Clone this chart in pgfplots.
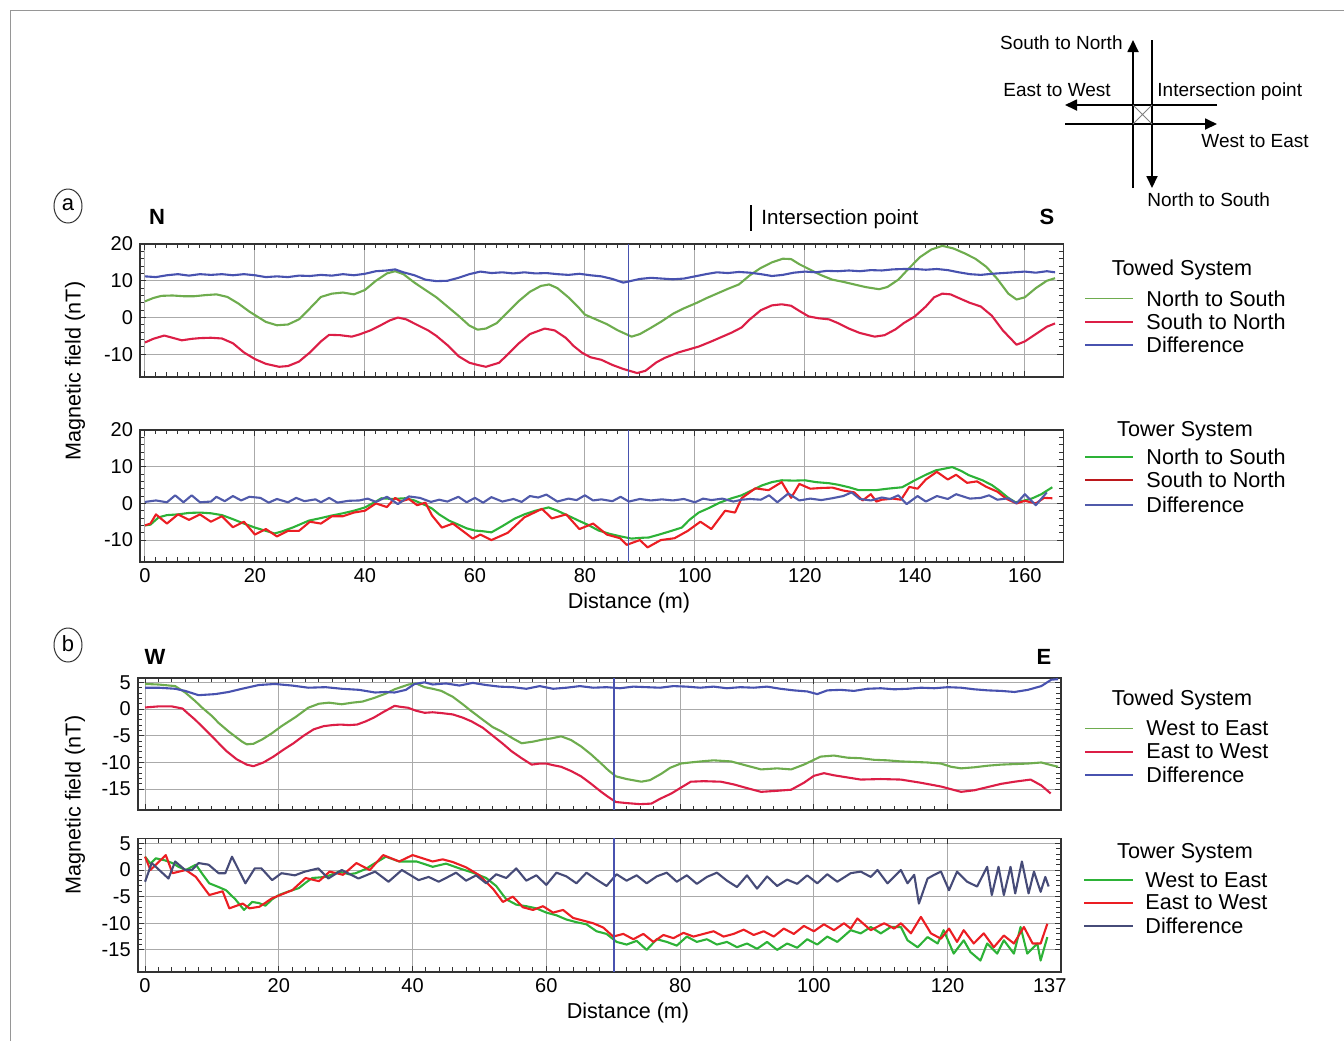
\documentclass[border=0pt]{standalone}
\usepackage{fontspec}
\setmainfont{Liberation Sans}
\usepackage{pgfplots}
\pgfplotsset{compat=1.18}
\usetikzlibrary{arrows.meta}
\definecolor{twgreen}{RGB}{110,172,78}
\definecolor{twred}{RGB}{220,30,70}
\definecolor{twblue}{RGB}{72,82,175}
\definecolor{trgreen}{RGB}{45,178,55}
\definecolor{trred}{RGB}{235,30,35}
\definecolor{trblue}{RGB}{80,90,170}
\definecolor{trgray}{RGB}{70,75,120}
\definecolor{gridgray}{RGB}{170,170,170}
\definecolor{framegray}{RGB}{150,150,150}
\pgfplotsset{
  magstyle/.style={
    scale only axis,
    axis line style={draw=black!80, line width=0.8pt},
    tick style={black!80, line width=0.5pt},
    major tick length=3pt, minor tick length=2.2pt,
    tick align=inside,
    grid=major, major grid style={gridgray, line width=0.5pt},
    ticklabel style={font=\fontsize{10}{12}\selectfont},
    /pgf/number format/assume math mode=true,
    every axis plot/.append style={line width=1.05pt, line join=round},
    anchor=south west,
  },
}
\newcommand{\lf}{\fontsize{10.8}{13}\selectfont}
\begin{document}
\begin{tikzpicture}
\useasboundingbox (0,0) rectangle (672pt,-520.5pt);
% frame
\draw[framegray, line width=0.5pt] (5pt,-520.5pt) -- (5pt,-5pt) -- (672pt,-5pt);

% ---------- Panel a1: Towed N-S ----------
\begin{axis}[magstyle, at={(70pt,-188.35pt)}, width=461.65pt, height=66.35pt,
  xmin=-0.9, xmax=167, ymin=-16.1, ymax=20,
  xtick={0,20,...,160}, xticklabels={}, minor x tick num=9,
  ytick={-10,0,10,20}, minor y tick num=4]
\addplot[twgreen] coordinates {(0,4.4) (1.5,5.3) (3,5.9) (5,6) (7,5.8) (9,5.8) (11,6.1) (13,6.3) (15,5.6) (17,3.8) (19,1.6) (20.5,0.2) (22,-1.2) (24,-2.1) (26,-1.9) (28,-0.5) (30,2.5) (32,5.6) (34,6.5) (36,6.8) (38,6.3) (40,7.5) (42,10) (44,12) (45.5,12.6) (47,11.8) (49,9.5) (51,7.5) (53,5.5) (55,3) (57,0.5) (59,-2.2) (60.5,-3.3) (62,-3) (64,-1.5) (66,1.5) (68,4.5) (70,7) (72,8.6) (73.5,9) (75,8) (77,5.5) (79,2.5) (80,0.8) (82,-0.5) (84,-1.8) (86,-3.5) (88.5,-5.2) (90,-4.5) (92,-2.8) (94,-1) (96,1) (98,2.5) (100.5,4.1) (102,5.2) (104,6.5) (106,7.8) (108,9) (110,11.5) (112,13.5) (114,15) (116,16) (117.5,15.9) (119,14.5) (121,13) (123,11.5) (125,10.3) (127,9.7) (129,9) (131,8.3) (133.5,7.7) (135,8.3) (137,10.3) (139,13.5) (141,16.5) (143,18.5) (145,19.5) (147,18.8) (149,17.5) (151,16) (153,13.8) (155,10.5) (157,6.5) (158.5,4.9) (160,5.5) (162,8) (164,10) (165.5,10.7)};
\addplot[twred] coordinates {(0,-6.8) (1.5,-5.8) (3.5,-4.9) (5,-5.5) (6.7,-6.2) (8.5,-5.8) (10,-5.6) (12,-5.5) (14,-5.7) (16,-7) (18,-9.5) (20,-11.3) (22,-12.6) (24.4,-13.4) (26,-13.2) (28,-12) (30,-9.5) (32,-6.5) (33.5,-4.7) (35.5,-4.8) (37.6,-5.2) (39,-4.6) (41,-3.5) (43,-2) (44.5,-0.8) (46,0) (47.5,-0.5) (49.5,-2) (51.5,-3.5) (53,-5) (55,-7.5) (57,-10.5) (59,-12.3) (60.5,-12.9) (62,-13.4) (64.4,-12.3) (66,-10) (68,-7) (70,-4.5) (72.7,-3) (74.5,-3.5) (76.5,-5.5) (78,-7.8) (79.5,-9.6) (81,-10.8) (83,-11.5) (85,-12.9) (87,-14) (89.5,-15.1) (91,-14.5) (93,-12.2) (94.5,-11) (97,-9.5) (100.7,-7.9) (103,-6.5) (105,-5.2) (106.7,-4.1) (108.5,-2.7) (110,-0.5) (112,2) (114,3.3) (115.8,3.6) (117.5,3.2) (119,1.8) (120.7,0.3) (122.5,-0.2) (124.4,-0.5) (126,-1.5) (128,-3) (130,-4.2) (132.7,-5.2) (134.5,-4.8) (136.5,-3.2) (138,-1.5) (140,0.3) (142,3) (143.5,5.5) (145,6.5) (146.5,6.3) (148,5.3) (150,4) (152,3) (154,0.5) (156,-3.5) (158.5,-7.4) (160,-6.5) (162,-4.5) (164,-2.5) (165.5,-1.6)};
\addplot[twblue] coordinates {(0,11.2) (2,11) (4,11.5) (6,11.8) (8,11.4) (10,11.8) (12,11.6) (14,11.8) (16,11.5) (18,11.8) (20,11.5) (22,11) (24,11.2) (26,11) (28,11.4) (30,11.3) (32,11.6) (34,11.4) (36,11.8) (38,11.5) (40,11.9) (42,12.6) (44,12.8) (45.5,13.1) (47,12.3) (49,11.5) (51,10.3) (53,9.9) (55,10) (57,10.8) (59,11.8) (61,12.5) (63,12.1) (65,12.3) (67,12) (69,12.3) (71,12) (73,12.1) (75,11.8) (77,11.6) (79,11.9) (81,11.5) (83,11.2) (85,10.5) (87,9.5) (88.5,10) (90,10.5) (92,10.8) (94,10.6) (96,10.4) (98,10.6) (100,11.2) (102,11.8) (104,12.3) (106,12.1) (108,12.4) (110,12.2) (112,11.8) (114,11.3) (116,11.6) (118,12.2) (120,12.5) (122,12.3) (124,12.7) (126,12.6) (128,12.8) (130,12.6) (132,12.9) (134,12.8) (136,13.1) (138,13.2) (140,13.2) (142,13) (144,13.2) (146,12.9) (148,12.3) (150,11.8) (152,11.6) (154,11.9) (156,12.1) (158,12.3) (160,12.5) (162,12.2) (164,12.6) (165.5,12.3)};
\addplot[twblue, line width=0.6pt] coordinates {(88,-16.1) (88,20)};
\end{axis}

% ---------- Panel a2: Tower N-S ----------
\begin{axis}[magstyle, at={(70pt,-280.85pt)}, width=461.65pt, height=65.85pt,
  xmin=-0.9, xmax=167, ymin=-15.9, ymax=20,
  xtick={0,20,...,160}, minor x tick num=9,
  ytick={-10,0,10,20}, minor y tick num=4]
\addplot[trgreen] coordinates {(0,-6) (1,-5.8) (2.5,-3.8) (4,-3.2) (6,-3) (8,-2.6) (10,-2.5) (12,-2.7) (14,-3.2) (16,-4.3) (18,-5.5) (20,-6.6) (22,-7.5) (23.6,-8.2) (25,-7.6) (27,-6.5) (29.8,-4.7) (32,-4) (34,-3.3) (36,-2.7) (38,-2) (40,-1.1) (42,0.5) (43,1.4) (45,1.2) (47.3,1.4) (49,0.8) (51,-0.5) (52.2,-1.4) (53.5,-3) (55.3,-4.7) (57,-5.8) (58.5,-6.8) (60,-7.4) (61.5,-7.6) (63,-7.9) (65,-6.2) (67.3,-4.1) (69,-3) (71,-2) (73.4,-1.1) (75,-2) (77.6,-3.8) (79,-4.8) (80.5,-5.8) (82.5,-7.4) (84.5,-8.3) (86.5,-9) (88.5,-9.6) (90,-9.4) (91.6,-9.3) (93.5,-8.5) (95.5,-7.6) (97.6,-6.6) (99,-4.5) (100.7,-2.5) (102.5,-1.3) (104.5,0.2) (106.7,1.4) (108.5,2.2) (110.3,3.5) (112.2,4.9) (114,5.8) (115.8,6.3) (118,6.2) (120,6.3) (122,5.8) (124.4,5.5) (126,5.1) (128,4.4) (129.8,3.6) (132.9,3.6) (135,4) (137.7,4.4) (140,6.3) (142,7.8) (143.8,9) (145.5,9.5) (146.8,9.9) (148.5,8.8) (149.8,7.7) (152.3,6.3) (154,5) (155.3,3.6) (157,1.5) (158.3,0.3) (160,0.8) (161.4,1.4) (163,2.5) (165,4.4)};
\addplot[trred] coordinates {(0,-6) (1,-5.5) (2,-3) (4,-5.5) (6,-3) (8,-4.5) (10,-3) (12,-5) (14,-3.5) (16,-6.5) (18,-5) (20,-8.5) (22,-7) (24,-9) (26,-7.5) (28,-7.5) (30,-5) (32,-5.5) (34,-3.5) (36,-3.5) (38,-2.5) (40,-2) (42,0) (44,-1) (45.5,1.5) (46.5,0.5) (48,1.2) (49.5,-0.5) (51,0.2) (52.2,-3.3) (54,-6.6) (56,-5.5) (58.4,-8.2) (59.6,-9.6) (61,-8.5) (63,-10) (66,-8) (69,-3.8) (72.2,-1.5) (74,-4.1) (76.6,-3) (79,-7) (81.5,-5.5) (84,-8.5) (86.4,-9.5) (87.6,-11.3) (90,-10) (91.4,-12) (93.8,-10) (96.3,-9.5) (98.7,-7.5) (101,-5) (103,-7) (105.5,-2) (107.3,-2.5) (108.5,1.4) (111,4.1) (113.4,3.6) (115.8,5.8) (117.5,1.5) (119,5.3) (121,4) (123,4.2) (125,4.3) (127,3.5) (129,3) (130.5,0.8) (132,2.5) (133,0.5) (134,1) (136,1.3) (137.5,1) (139,4.5) (140.5,4) (142,6.5) (144,8.6) (146,6.5) (147.5,7.8) (149.5,5.6) (151.3,6) (153,4.5) (155,3.2) (156.7,1.2) (158.5,0) (160,0.7) (162,0) (163.5,1.5) (165,1.4)};
\addplot[trblue] coordinates {(0,0.4) (2,0.8) (4,0.3) (5.5,2.2) (7,0.3) (8.5,2.2) (10,0.3) (12,0.5) (13,1.8) (14.5,0.6) (16,2) (17.5,0.8) (19,1.8) (21,1.5) (22.5,0.2) (24,1.2) (26,0.3) (27.5,1.5) (29,0.6) (31,1.1) (32,0.3) (33.5,1.5) (35,0.2) (37,0.7) (39,0.8) (40.5,1.3) (42,0.4) (44,1.8) (46,-0.2) (48,1.9) (50,1.5) (52,0.4) (53.5,1) (55,0.5) (57,1.8) (58.5,0.3) (60,1.5) (61.5,0.2) (63,1.7) (65,0.5) (67,1.2) (68.5,0.4) (70,2) (71.5,1.6) (73,2.4) (75,0.5) (77,1.3) (78.5,0.9) (80,2.2) (81.5,0.8) (83,1.1) (85,0.6) (86.5,1.8) (88,0.5) (90,1.2) (92,0.8) (94,1.1) (96,0.8) (98,1.2) (100,0.3) (101.5,1.3) (103,0.9) (105,1.3) (107,0.5) (108.5,1) (110,1.2) (112,1) (113.5,2.2) (115,0.3) (117,2.7) (119,0.8) (121,1.3) (123,0.9) (125,1.4) (127,2) (128.5,3) (130,1.2) (132,0.8) (134,1.6) (135.5,1.2) (137,2.2) (138.5,-0.2) (140.5,2) (142,0.5) (144,2) (146,1.2) (147.5,2.5) (150,1.3) (152,1.5) (153.5,2.2) (155,1) (157,1.4) (158.5,0) (160,2.5) (162,-0.5) (164,3)};
\addplot[twblue, line width=0.6pt] coordinates {(88,-15.9) (88,20)};
\end{axis}

% ---------- Panel b1: Towed W-E ----------
\begin{axis}[magstyle, at={(68.85pt,-405pt)}, width=461.5pt, height=66.15pt,
  xmin=-1.1, xmax=136.9, ymin=-18.9, ymax=5.87,
  xtick={0,20,...,120}, xticklabels={}, minor x tick num=9,
  ytick={-15,-10,-5,0,5}, minor y tick num=4]
\addplot[twgreen] coordinates {(0,4.7) (2,4.6) (4.5,4.3) (6,3.1) (7.5,1.5) (8.5,0.3) (10,-1.3) (11,-2.6) (12.5,-4.2) (14.5,-6.1) (15.2,-6.6) (16.2,-6.5) (17.5,-5.7) (19,-4.5) (20.4,-3.2) (22.5,-1.5) (24.4,0.25) (26,1) (27.5,1.2) (29.4,0.9) (31,1.2) (32.5,1.4) (34.3,2.1) (36,2.9) (37.3,3.7) (39.4,4.6) (40.5,4.8) (41.8,4.1) (43,3.8) (44.3,3.4) (46,2.3) (47.5,0.9) (48.8,-0.4) (50.5,-2) (52,-3.4) (53.3,-4.2) (55,-5.5) (56.3,-6.4) (58,-6.1) (59.5,-5.7) (60.7,-5.5) (62.2,-5.1) (63.7,-5.8) (65.2,-7) (66.7,-8.5) (68.2,-10.2) (69.3,-11.5) (70.4,-12.6) (72,-13.1) (74.2,-13.6) (75.5,-13.3) (77.2,-12.1) (78.5,-11) (80.1,-10.2) (81.5,-10) (83.1,-9.8) (85,-9.6) (87.6,-9.8) (90,-10.6) (92.1,-11.3) (94.5,-11.1) (96.6,-11.3) (98.5,-10.4) (101,-8.9) (103,-8.7) (105,-9.1) (107,-9.2) (109,-9.5) (111,-9.6) (113,-9.8) (115,-9.9) (117,-10) (119,-10.2) (120.5,-10.8) (122,-11.1) (124,-10.9) (126,-10.6) (128,-10.4) (130,-10.3) (132,-10.2) (134,-10) (135.5,-10.5) (136.5,-10.8)};
\addplot[twred] coordinates {(0,0.3) (2,0.5) (4,0.5) (5.6,0.1) (6.3,-0.7) (7.5,-2) (9.2,-4.1) (10.7,-6) (12.2,-7.9) (13.7,-9.4) (15.2,-10.4) (16.2,-10.7) (17.7,-10) (19.2,-8.9) (20.7,-7.6) (22.2,-6.4) (23.7,-5) (25.2,-3.8) (26.7,-3.2) (28,-3) (29.2,-2.9) (30.5,-3) (31.7,-2.9) (33,-2.3) (34.2,-1.6) (35.7,-0.5) (37.3,0.6) (38.3,0.4) (39.3,0.25) (40.5,-0.3) (41.8,-0.7) (43,-0.6) (44.3,-0.75) (46,-1) (47.5,-1.6) (48.8,-2.3) (50.5,-3.5) (52,-5) (53.5,-6.5) (54.8,-7.9) (56.3,-9.2) (57.8,-10.4) (59,-10.2) (60,-10.2) (61,-10.5) (62.2,-10.8) (63.7,-11.6) (65.2,-12.6) (66.7,-14) (68.2,-15.5) (69.3,-16.5) (70.4,-17.4) (72,-17.6) (74,-17.8) (75.7,-17.7) (77,-16.8) (78.7,-15.8) (80,-14.8) (81.6,-13.6) (83.5,-13.5) (86.1,-13.6) (88,-14.1) (90,-14.8) (92.1,-15.5) (94.5,-15.3) (96.6,-15.1) (98.5,-13.8) (100,-12.5) (101.5,-12) (103,-12.4) (105,-12.8) (107,-13.2) (110,-13.1) (113,-13.2) (116,-13.8) (119,-14.5) (120.5,-15) (122,-15.5) (124,-15.2) (126,-14.6) (128,-14) (130,-13.6) (132.4,-13.2) (134,-14.3) (135.4,-15.8)};
\addplot[twblue] coordinates {(0,4) (2,4) (4.5,3.8) (6,3.4) (8,2.6) (10.5,2.8) (12.5,3.2) (14.5,3.8) (17,4.5) (19.4,4.7) (22,4.4) (24.4,4) (27,4.1) (29.4,3.8) (32,3.6) (34.4,3.1) (36,3.2) (37.3,3.1) (39,3.6) (40.3,4.7) (41.8,5) (43,4.6) (45,4.8) (47,4.4) (49,4.9) (51,4.5) (53,4.2) (55,4.1) (57,3.8) (59,4.3) (61,3.8) (63,4) (65,4.3) (67,4) (69,4.1) (71,3.9) (73,4.2) (75,4.1) (77,4) (79,4.3) (81,4.2) (83,4) (85,4.2) (87,3.9) (89,4.1) (91,4) (93,4.2) (95,3.8) (97,3.5) (99,3.3) (100.5,2.8) (102,3.5) (104,3.6) (106,3.4) (108,3.8) (110,3.9) (112,3.7) (114,3.8) (116,4) (118,3.9) (120,4.1) (122,4) (124,3.7) (126,3.5) (128,3.4) (130,3.2) (132,3.6) (134,4.3) (135.5,5.5) (136.5,5.6)};
\addplot[twblue, line width=0.6pt] coordinates {(70.1,-18.9) (70.1,5.87)};
\end{axis}

% ---------- Panel b2: Tower W-E ----------
\begin{axis}[magstyle, at={(68.85pt,-485.85pt)}, width=461.5pt, height=66.7pt,
  xmin=-1.1, xmax=136.9, ymin=-19.1, ymax=5.95,
  xtick={0,20,...,120}, minor x tick num=9,
  extra x ticks={136.9}, extra x tick labels={137},
  extra x tick style={grid=none, xticklabel style={xshift=-5.5pt}},
  ytick={-15,-10,-5,0,5}, minor y tick num=4]
\addplot[trgreen] coordinates {(0,2.5) (0.8,1.2) (1.6,2.2) (3,1.8) (4.1,1.3) (5,0.6) (6.1,0) (7.6,1) (8.6,-0.8) (9.6,-2.5) (11,-3.2) (12.1,-3.8) (13.5,-5.5) (14.8,-7.5) (16,-6) (17,-6.2) (18,-6.7) (19,-5.5) (20,-4.7) (21.5,-4) (23,-3.4) (24,-2.4) (25,-1.5) (27,-1.3) (29,-0.3) (30.5,-0.8) (31.5,-0.6) (33,0.2) (34,1) (36,2.5) (38,1.6) (40.6,1.6) (43,0.6) (45,1.2) (47,0.3) (49,-0.5) (51,-1.5) (52.5,-3) (54,-5.5) (55.5,-6.5) (57,-6.8) (58.5,-7.2) (60,-8) (61.5,-8.5) (63,-9.3) (64.5,-9.8) (66,-10.2) (67.5,-11.5) (69,-12) (70.5,-13.5) (72,-14) (73.5,-13.3) (75,-15) (76.5,-13) (78,-13.5) (79.5,-14.2) (81,-12.5) (82.5,-13.5) (84,-13) (85.5,-14) (87,-13.5) (88.5,-14.5) (90,-13.8) (91.5,-14.8) (93,-13.5) (94.5,-15) (96,-13.8) (97.5,-14.6) (99,-13) (100.5,-14) (102,-12.5) (103.5,-13.5) (105.5,-11.3) (107,-11.9) (108.5,-10.7) (110,-11.9) (111.5,-10.7) (113,-10.7) (114,-13.2) (115.5,-14.5) (117,-12.6) (118.5,-13.8) (119.4,-11.3) (120.9,-15.7) (122.4,-13.2) (123.4,-15.4) (124.9,-17) (125.9,-13.8) (127.4,-15.7) (128.4,-13.2) (129.9,-15.7) (130.9,-10.7) (131.9,-15.7) (133.4,-13.8) (133.9,-17) (134.9,-12.6)};
\addplot[trred] coordinates {(0,2.5) (0.8,0) (3.1,2.8) (4.1,-0.6) (6.1,0) (7.6,-1.3) (9.6,-4.7) (11.6,-4) (12.6,-7.2) (14.6,-6.3) (15.6,-7.2) (17.1,-6.9) (19,-5.3) (22,-3.8) (24,-1.5) (26,-2.1) (27.6,-0.3) (29.6,-0.9) (31.6,1.3) (33.6,0) (35.6,2.8) (38,1.6) (40,2.8) (43,1.6) (44.5,2) (46,1.5) (48,0.5) (50,-1) (52,-3.5) (53.5,-6) (55,-5) (56.5,-7) (58,-7.5) (59.5,-6.8) (61,-8) (62.5,-7.5) (64,-9) (65.5,-9.5) (67,-10) (68.5,-10.8) (70,-12.5) (71.5,-12) (73,-13) (74.5,-12) (76,-13.5) (77.5,-12.2) (79,-12.8) (80.5,-11.8) (82,-12.5) (83.5,-12) (85,-11.5) (86.5,-12.5) (88,-12) (89.5,-11.2) (91,-12.2) (92.5,-11.5) (94,-12.5) (95.5,-11) (97,-12) (98.5,-10.5) (100,-11.5) (101.5,-10.2) (103,-11.3) (104.5,-10) (105.5,-11) (106.5,-9.1) (108.5,-11.3) (110.5,-10) (112,-11) (113,-10) (114.5,-11.9) (116,-8.8) (117.5,-11.9) (119,-12.9) (120.2,-11) (121.4,-13.5) (122.4,-11.3) (123.9,-13.8) (125.4,-11.9) (126.9,-14.5) (128.4,-12.3) (129.9,-13.8) (131.4,-10.7) (132.7,-13.8) (133.9,-13.8) (134.9,-10.1)};
\addplot[trgray] coordinates {(0,-2.2) (1,1.3) (3.5,-1.6) (4.5,1.6) (6,0) (7,0) (8,1.3) (9.5,1) (11,-0.6) (12,-0.6) (13,2.5) (15,-2.5) (16.4,0.3) (17.4,0.3) (19,-1.9) (20.4,-0.6) (22.4,-1) (23.9,-0.3) (25.9,0.3) (27.4,-1.6) (29.4,0) (31.9,-1.6) (34.4,-0.3) (36.4,-2.2) (38.4,0) (40.9,-1.9) (42.4,-1.3) (43.9,-2.2) (45,-1.5) (46.5,-0.5) (48,-2) (49.5,-1) (51,-2.5) (52.5,-0.8) (54,-1.5) (55.5,0.3) (57,-2) (58.5,-1) (60,-2.8) (61.5,-0.5) (63,-1.2) (64.5,-2.5) (66,-0.5) (67.5,-1.8) (69,-3) (70.5,-0.8) (72,-2) (73.5,-1) (75,-2.5) (76.5,-1.2) (78,-0.5) (79.5,-2.2) (81,-1) (82.5,-2.6) (84,-1.3) (85.5,-0.5) (87,-2) (88.5,-3.2) (90,-1) (91.5,-3.5) (93,-1.2) (94.5,-3) (96,-1.8) (97.5,-2.6) (99,-1) (100.5,-2.5) (102,-0.8) (103.5,-2.2) (105.5,-0.6) (107,-0.3) (108.5,-1.3) (109.5,0) (111,-2.5) (113,0) (114,-2.5) (115,-0.9) (115.7,-6.3) (117,-1.6) (118,-0.9) (119,-0.3) (120.2,-3.8) (121.4,-0.3) (122.9,-2.2) (124.4,-3.1) (125.9,0.6) (126.6,-4.7) (127.6,0.6) (128.4,-4.7) (129.4,0.6) (130.1,-4.4) (131.1,1.6) (132.1,-4.4) (132.9,-0.3) (133.9,-4.1) (134.6,-1.3) (135.1,-3.1)};
\addplot[twblue, line width=0.6pt] coordinates {(70.1,-19.1) (70.1,5.95)};
\end{axis}

% ---------- labels ----------
\node[rotate=90, font=\lf] at (37.5pt,-185.5pt) {Magnetic field (nT)};
\node[rotate=90, font=\lf] at (37.5pt,-402.5pt) {Magnetic field (nT)};
\node[font=\lf] at (314.5pt,-301.5pt) {Distance (m)};
\node[font=\lf] at (314pt,-506.5pt) {Distance (m)};

% circled panel letters
\draw[black!80, line width=0.5pt] (34pt,-103pt) ellipse (7pt and 8.5pt);
\node[font=\fontsize{11}{13}\selectfont] at (34pt,-102.5pt) {a};
\draw[black!80, line width=0.5pt] (34pt,-322.5pt) ellipse (7pt and 8.5pt);
\node[font=\fontsize{11}{13}\selectfont] at (34pt,-322pt) {b};

% N S W E
\node[font=\fontsize{11}{13}\selectfont\bfseries] at (78.5pt,-108.5pt) {N};
\node[font=\fontsize{11}{13}\selectfont\bfseries] at (523.5pt,-108.5pt) {S};
\node[font=\fontsize{11}{13}\selectfont\bfseries] at (77.5pt,-328.5pt) {W};
\node[font=\fontsize{11}{13}\selectfont\bfseries] at (522pt,-328.5pt) {E};
\draw[black, line width=0.7pt] (375.5pt,-102.5pt) -- (375.5pt,-115.5pt);
\node[anchor=west, inner sep=0pt, font=\fontsize{10.3}{12}\selectfont] at (380.5pt,-109.5pt) {Intersection point};

% ---------- legends ----------
\node[font=\lf] at (591pt,-135pt) {Towed System};
\draw[twgreen, line width=0.9pt] (542.5pt,-149.2pt) -- (566.5pt,-149.2pt);
\draw[twred, line width=0.9pt] (542.5pt,-160.8pt) -- (566.5pt,-160.8pt);
\draw[twblue, line width=0.9pt] (542.5pt,-172.5pt) -- (566.5pt,-172.5pt);
\node[anchor=west, inner sep=0pt, font=\lf] at (573pt,-149.2pt) {North to South};
\node[anchor=west, inner sep=0pt, font=\lf] at (573pt,-160.8pt) {South to North};
\node[anchor=west, inner sep=0pt, font=\lf] at (573pt,-172.5pt) {Difference};

\node[font=\lf] at (592.5pt,-215.8pt) {Tower System};
\draw[trgreen, line width=0.9pt] (542.5pt,-228.3pt) -- (566.5pt,-228.3pt);
\draw[trred!80!black, line width=0.9pt] (542.5pt,-240pt) -- (566.5pt,-240pt);
\draw[trblue, line width=0.9pt] (542.5pt,-252.5pt) -- (566.5pt,-252.5pt);
\node[anchor=west, inner sep=0pt, font=\lf] at (573pt,-228.3pt) {North to South};
\node[anchor=west, inner sep=0pt, font=\lf] at (573pt,-240pt) {South to North};
\node[anchor=west, inner sep=0pt, font=\lf] at (573pt,-252.5pt) {Difference};

\node[font=\lf] at (591pt,-350pt) {Towed System};
\draw[twgreen, line width=0.9pt] (542.5pt,-364.2pt) -- (566.5pt,-364.2pt);
\draw[twred, line width=0.9pt] (542.5pt,-375.8pt) -- (566.5pt,-375.8pt);
\draw[twblue, line width=0.9pt] (542.5pt,-387.5pt) -- (566.5pt,-387.5pt);
\node[anchor=west, inner sep=0pt, font=\lf] at (573pt,-364.2pt) {West to East};
\node[anchor=west, inner sep=0pt, font=\lf] at (573pt,-375.8pt) {East to West};
\node[anchor=west, inner sep=0pt, font=\lf] at (573pt,-387.5pt) {Difference};

\node[font=\lf] at (592.5pt,-426.7pt) {Tower System};
\draw[trgreen, line width=0.9pt] (542pt,-440pt) -- (566.3pt,-440pt);
\draw[trred, line width=0.9pt] (542pt,-451.3pt) -- (566.3pt,-451.3pt);
\draw[trgray, line width=0.9pt] (542pt,-463pt) -- (566.3pt,-463pt);
\node[anchor=west, inner sep=0pt, font=\lf] at (572.5pt,-440pt) {West to East};
\node[anchor=west, inner sep=0pt, font=\lf] at (572.5pt,-451.3pt) {East to West};
\node[anchor=west, inner sep=0pt, font=\lf] at (572.5pt,-463pt) {Difference};

% ---------- direction diagram ----------
\begin{scope}[line width=0.9pt, >={Triangle[length=6pt,width=5.5pt]}]
\draw[->] (566.5pt,-94pt) -- (566.5pt,-20pt);
\draw[->] (576pt,-20pt) -- (576pt,-94pt);
\draw[->] (608.5pt,-52.5pt) -- (532.5pt,-52.5pt);
\draw[->] (532.5pt,-62pt) -- (608.5pt,-62pt);
\end{scope}
\draw[gray, line width=0.5pt] (566.5pt,-52.5pt) -- (576pt,-62pt) (566.5pt,-62pt) -- (576pt,-52.5pt);
\node[anchor=east, inner sep=0pt, font=\fontsize{9.5}{11}\selectfont] at (561.5pt,-21.5pt) {South to North};
\node[anchor=west, inner sep=0pt, font=\fontsize{9.5}{11}\selectfont] at (501.5pt,-45pt) {East to West};
\node[anchor=west, inner sep=0pt, font=\fontsize{9.5}{11}\selectfont] at (578.5pt,-46pt) {Intersection point};
\node[anchor=west, inner sep=0pt, font=\fontsize{9.5}{11}\selectfont] at (600.5pt,-70.5pt) {West to East};
\node[anchor=west, inner sep=0pt, font=\fontsize{9.5}{11}\selectfont] at (573.5pt,-100pt) {North to South};
\end{tikzpicture}
\end{document}
